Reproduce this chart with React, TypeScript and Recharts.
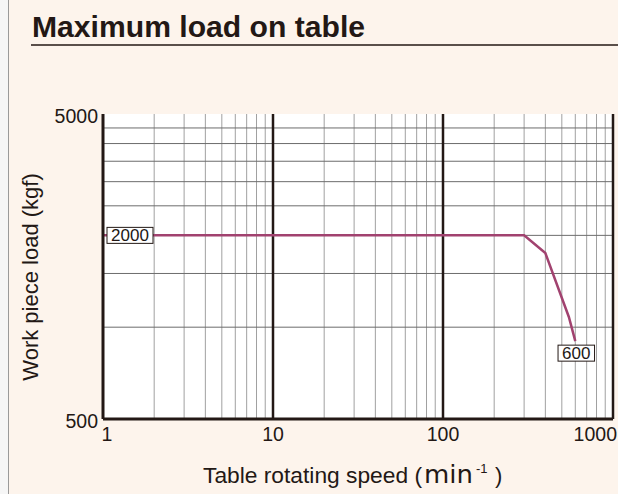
import React from "react";
import { LineChart, Line, XAxis, YAxis, ReferenceLine, ReferenceArea } from "recharts";

// Table rotating speed (min^-1) vs work piece load (kgf)
const speeds = [1, 300, 400, 550, 600];
const loads = [2000, 2000, 1750, 1080, 900];
const pointNotes = ["2000", "", "", "", "600"];

const speedTicks = [1, 10, 100, 1000];
const loadTicks = [500, 5000];
const majorSpeedLines = [10, 100, 1000];
const minorSpeedLines = [2, 3, 4, 5, 6, 7, 8, 9, 20, 30, 40, 50, 60, 70, 80, 90, 200, 300, 400, 500, 600, 700, 800, 900];
const loadGridLines = [1000, 1500, 2000, 2500, 3000, 3500, 4000, 4500];

const data = speeds.map((s, i) => ({ speed: s, load: loads[i] }));

const INK = "#231815";
const BG = "#fdf4ec";
const FONT = "'Liberation Sans', Arial, Helvetica, sans-serif";

const XTick = (props: any) => {
  const { x, y, payload, index } = props;
  const isFirst = index === 0;
  const isLast = index === speedTicks.length - 1;
  const anchor = isLast ? "end" : "middle";
  const px = isFirst ? x + 4 : isLast ? 617 : x;
  return (
    <text x={px} y={y} dy="0.71em" textAnchor={anchor} fontFamily={FONT} fontSize={19.5} fill={INK}>
      {payload.value}
    </text>
  );
};

const YTick = (props: any) => {
  const { x, y, payload } = props;
  return (
    <text x={x} y={y + 2} dy="0.355em" textAnchor="end" fontFamily={FONT} fontSize={19.5} fill={INK}>
      {payload.value}
    </text>
  );
};

const renderPointLabel = (props: any) => {
  const { x, y, index } = props;
  const text = pointNotes[index];
  if (!text) return null;
  const last = index === pointNotes.length - 1;
  const w = text.length * 9.5 + 8;
  const h = 16;
  const rx = last ? x - w / 2 + 1 : x + 4;
  const ry = last ? y + 4 : y - h / 2;
  return (
    <g key={`lbl-${index}`}>
      <rect x={rx} y={ry} width={w} height={h} fill="#ffffff" stroke={INK} strokeWidth={1} />
      <text x={rx + w / 2} y={ry + h / 2} dy="0.36em" textAnchor="middle" fontFamily={FONT} fontSize={17} fill={INK}>
        {text}
      </text>
    </g>
  );
};

export default function App() {
  return (
    <div style={{ position: "absolute", left: 0, top: 0, width: 618, height: 494, background: BG, overflow: "hidden" }}>
      <svg width={618} height={494} style={{ position: "absolute", left: 0, top: 0 }}>
        <rect x={0} y={0} width={8} height={494} fill="#f6f6f6" />
        <line x1={8.5} y1={0} x2={8.5} y2={494} stroke="#9a9a9a" strokeWidth={1} />
        <text x={32} y={37} fontFamily={FONT} fontWeight="bold" fontSize={30} fill={INK} textLength={333} lengthAdjust="spacingAndGlyphs">
          Maximum load on table
        </text>
        <line x1={31} y1={45} x2={618} y2={45} stroke={INK} strokeWidth={1.5} />
        <text x={38} y={277} transform="rotate(-90, 38, 277)" textAnchor="middle" fontFamily={FONT} fontSize={22} fill={INK}>
          Work piece load (kgf)
        </text>
        <text y={483} fontFamily={FONT} fontSize={22} fill={INK}>
          <tspan x={203} textLength={219} lengthAdjust="spacingAndGlyphs">Table rotating speed (</tspan>
          <tspan x={424} fontFamily="'DejaVu Sans', sans-serif" fontSize={24} textLength={49} lengthAdjust="spacingAndGlyphs">min</tspan>
          <tspan x={476} y={473} fontSize={13}>-1</tspan>
          <tspan x={495} y={483}>)</tspan>
        </text>
      </svg>
      <div style={{ position: "absolute", left: 0, top: 0 }}>
        <LineChart width={618} height={494} data={data} margin={{ top: 114, right: 5, bottom: 45, left: 43 }}>
          <XAxis
            dataKey="speed"
            type="number"
            scale="log"
            domain={[1, 1000]}
            ticks={speedTicks}
            allowDataOverflow
            axisLine={{ stroke: INK, strokeWidth: 3 }}
            tickLine={false}
            tick={<XTick />}
            height={30}
          />
          <YAxis
            dataKey="load"
            type="number"
            scale="log"
            domain={[500, 5000]}
            ticks={loadTicks}
            allowDataOverflow
            axisLine={{ stroke: INK, strokeWidth: 3 }}
            tickLine={false}
            tickSize={3}
            tickMargin={2}
            tick={<YTick />}
            width={60}
          />
          <ReferenceArea x1={1} x2={1000} y1={500} y2={5000} fill="#ffffff" fillOpacity={1} stroke="none" />
          {minorSpeedLines.map((v) => (
            <ReferenceLine key={`mv-${v}`} x={v} stroke="#a0a0a0" strokeWidth={1} />
          ))}
          {loadGridLines.map((v) => (
            <ReferenceLine key={`h-${v}`} y={v} stroke="#6c6c6c" strokeWidth={1} />
          ))}
          {majorSpeedLines.map((v) => (
            <ReferenceLine key={`Mv-${v}`} x={v} stroke={INK} strokeWidth={2.5} />
          ))}
          <Line
            type="linear"
            dataKey="load"
            stroke="#a1426f"
            strokeWidth={2.5}
            dot={false}
            isAnimationActive={false}
            label={renderPointLabel}
          />
        </LineChart>
      </div>
    </div>
  );
}
